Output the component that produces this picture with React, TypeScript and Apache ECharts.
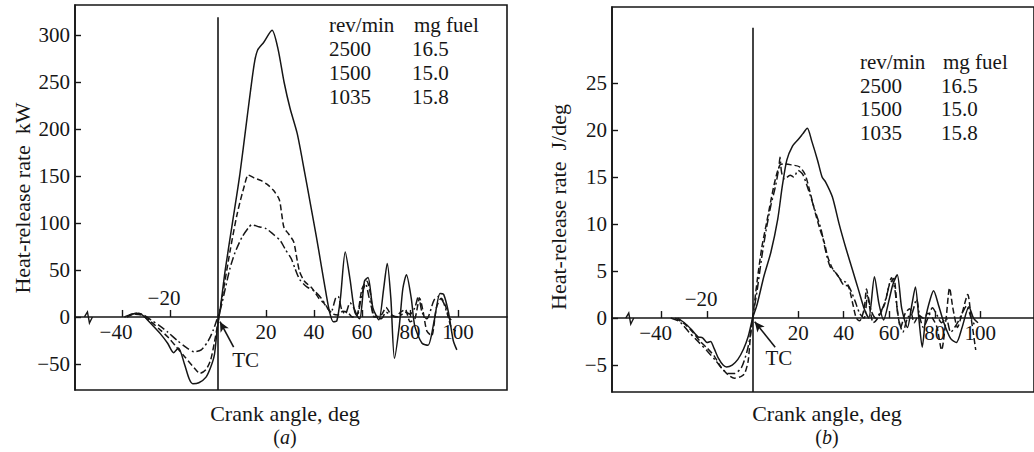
import React, { useEffect, useRef } from "react";
import * as echarts from "echarts";

// ---------- data (crank angle deg, heat-release rate) ----------
const SPEEDS = ["2500", "1500", "1035"];
const FUEL = ["16.5", "15.0", "15.8"];

const X_TICKS = [-40, -20, 20, 40, 60, 80, 100];
const X_LABELS = [-40, 20, 40, 60, 80, 100];
const X_LABEL_ABOVE = -20;
const Y_TICKS_A = [-50, 0, 50, 100, 150, 200, 250, 300];
const Y_TICKS_B = [-5, 0, 5, 10, 15, 20, 25];

// (a) kW
const A_2500 = [[-39,0],[-36,3],[-33,4],[-31,1],[-28,-7],[-24,-18],[-21,-28],[-18.5,-38],[-16.5,-33],[-14,-50],[-12,-66],[-10.5,-71],[-8,-70],[-5,-64],[-3,-53],[-1.5,-40],[-0.3,-12],[1,10],[3,50],[6,100],[9,150],[12,210],[15,268],[16.5,284],[19,292],[22.5,305],[25,285],[27.5,250],[30,222],[33,195],[36,155],[38.5,120],[41,85],[43,55],[45,25],[46.5,5],[48,-5],[49.5,-4],[51,20],[53,69],[55,40],[57,5],[59,-2],[61,38],[62.5,42],[64.5,10],[67,-3],[69,30],[70.5,57],[72,20],[73.5,-44],[75.5,-10],[77,30],[78.5,45],[80.5,20],[82,-10],[85,-28],[87.5,-30],[90,-5],[92.5,25],[94,24],[96,5],[98,-25],[99.5,-35]];
const A_1500 = [[-38,0],[-35,3],[-32,2],[-28,-5],[-24,-14],[-21,-21],[-17,-33],[-14,-42],[-10,-54],[-7.5,-60],[-5,-56],[-3,-45],[-1,-20],[0,-5],[2,25],[5,70],[8,110],[11,140],[12.6,151],[15,148],[18,145],[20.5,141],[23,135],[25.5,125],[26.5,110],[27.5,95],[29.5,88],[31.5,80],[33,60],[34,48],[36,38],[39,31],[42,20],[44,15],[46,8],[48,3],[50,2],[52,6],[54,5],[56,0],[58,2],[60,30],[62,38],[63.5,25],[65,0],[68,2],[70,10],[72,3],[74,0],[76,5],[78,8],[80,-5],[82,-2],[84,20],[85.5,5],[87,-15],[89,-20],[91,10],[93,20],[95,10],[97,-10],[99,-15]];
const A_1035 = [[-37,2],[-34,4],[-31,2],[-28,-3],[-24,-10],[-21,-16],[-17,-25],[-13,-33],[-10,-37],[-7,-35],[-4,-25],[-2,-14],[-0.5,-3],[1,8],[3,30],[5,52],[7,68],[10,85],[13,96],[14,98],[17,96],[20,94],[23,88],[26,81],[28,72],[30.5,62],[32,52],[34,40],[37,32],[40,28],[43,20],[45,12],[47,5],[49,20],[50,22],[51.5,8],[53,3],[55,15],[56.5,10],[58,2],[60,25],[61.5,35],[63,20],[65,2],[68,-2],[70,5],[72,2],[75,0],[78,5],[80,3],[82,10],[83.5,22],[85,5],[87,-2],[90,18],[92,22],[94,15],[96,0],[98,-5]];

// (b) J/deg
const B_2500 = [[-33,0],[-30,-0.5],[-27,-1.2],[-24,-2],[-22,-2.1],[-20,-2.6],[-18.5,-2.5],[-17,-3.2],[-15,-4.3],[-13,-5],[-11.5,-5.2],[-9,-5],[-6.5,-4.4],[-4,-3.3],[-2,-2],[-0.5,-0.5],[0,0],[2,1.5],[5,4.5],[8,7],[11,10.5],[13,14],[15,16.8],[17.5,18.3],[20,19],[22,19.6],[24,20.2],[26,18.8],[28.5,16.8],[30.5,15],[32,14.5],[35,12.9],[38,10],[41,7.4],[44,5],[46.5,3],[49,1],[51,0],[53.5,4.4],[55.5,1.5],[57.5,-0.2],[60,2],[61.5,3.5],[63.5,4.6],[65.5,1],[68,-1],[70,1.5],[71.5,3.3],[73,0],[74.5,-3.1],[76,0],[78,2],[79.5,2.9],[81.5,1.5],[84,-0.5],[87,-2.2],[89.5,-2.6],[92,-1],[95,1.2],[97,0],[99,-0.5]];
const B_1500 = [[-34,0],[-30,-0.6],[-26,-1.6],[-23,-2.5],[-20,-3.2],[-17,-4],[-14,-5.2],[-11,-6],[-8,-6.4],[-5,-6.2],[-3.5,-5.9],[-2,-4.6],[-1,-2],[0,0],[2,4],[4,7.5],[6,10],[8,12.5],[10,14.8],[12,16.3],[14,16.4],[17,16.3],[20.5,16.1],[23,15.3],[25,13.6],[27.5,11.2],[29.5,9.5],[31.5,8],[33,6.5],[35,5.3],[37.5,4.5],[40,3.5],[42,3.4],[44,1.5],[45.5,0],[47,-0.3],[49,1],[50,3.1],[51.5,1],[53,-0.5],[55,0],[58,1.5],[60,3.5],[62,4.2],[63.5,1],[65,-1],[67,0.5],[69,1],[71,-0.5],[73,0.3],[75,0],[77,0.5],[79,0],[81,-1],[83,-3.4],[85,0],[86.5,3.2],[88,1],[90,-1],[92,0.5],[94.5,2.5],[96,0],[98,-3.4]];
const B_1035 = [[-36,0],[-32,-0.4],[-28,-1.5],[-24,-2.5],[-20,-3.5],[-16,-4.6],[-13,-5.5],[-10.7,-5.9],[-8,-5.9],[-5,-5.3],[-3,-4],[-1.5,-2.5],[0,0],[2,3],[4,6.5],[6,9.5],[8,12],[10,14],[11.5,16],[12,17.1],[12.7,15.5],[14,14.8],[16.5,15.2],[18,15],[20,15.7],[22,15.3],[24,14],[26,12.5],[28,11],[30,9.5],[32,7.2],[34,5.5],[36.5,4.8],[39,4],[41,3.8],[43,3],[45,1.8],[47,0.5],[49,0],[50.5,2.5],[52,0.8],[54,0],[57,1],[59,2.5],[61,4.3],[62.5,3],[64,0],[66,-1.5],[68,0],[70,0.5],[72,2],[73.5,0],[75,-1],[77,0],[79,1.1],[81,0.3],[83,-0.5],[85,0],[87,-1.5],[90,-0.5],[92,0.5],[94,1.3],[96,0],[98,-1]];

// ---------- styling ----------
const INK = "#161616";
const FONT = '"Liberation Serif", "Times New Roman", serif';
const FS = 21;
const DASH_STYLES: any[] = ["solid", [6, 3], [8, 3, 2, 3]];

const fmt = (v: number) => (v < 0 ? "\u2212" + Math.abs(v) : String(v));

function App() {
  const ref = useRef<HTMLDivElement>(null);
  useEffect(() => {
    document.body.style.margin = "0";
    const chart = echarts.init(ref.current as HTMLDivElement, null, { renderer: "svg" });

    const xAxisCommon = (gi: number, min: number, max: number) => ({
      gridIndex: gi, type: "value", min, max,
      axisLine: { onZero: true, lineStyle: { color: INK, width: 1.6 } },
      axisTick: { inside: true, length: 7, customValues: X_TICKS, lineStyle: { color: INK, width: 1.4 } },
      axisLabel: { show: false },
      splitLine: { show: false },
    });
    const yAxisCommon = (gi: number, min: number, max: number, ticks: number[]) => ({
      gridIndex: gi, type: "value", min, max,
      axisLine: { show: true, onZero: false, lineStyle: { color: INK, width: 1.6 } },
      axisTick: { show: true, inside: true, length: 6, customValues: ticks, lineStyle: { color: INK, width: 1.4 } },
      axisLabel: { customValues: ticks, formatter: fmt, fontSize: FS, fontFamily: FONT, color: INK, margin: 5 },
      splitLine: { show: false },
    });

    const mkSeries = (data: number[][], i: number, gi: number, extra: any = {}) => ({
      type: "line", xAxisIndex: gi, yAxisIndex: gi, data, smooth: 0.25, showSymbol: false, symbol: "none",
      lineStyle: { color: INK, width: 1.5, type: DASH_STYLES[i] }, z: 3, ...extra,
    });

    const guides = (top: number, bottom: number, arrowFrom: number[], arrowTo: number[]) => ({
      markLine: {
        silent: true, symbol: ["none", "none"], label: { show: false }, animation: false,
        lineStyle: { color: INK, width: 1.6, type: "solid" },
        data: [
          [{ coord: [0, top] }, { coord: [0, bottom] }],
          [{ coord: arrowFrom, symbol: "none" }, { coord: arrowTo, symbol: "arrow", symbolSize: [7, 10] }],
        ],
      },
    });

    const option: any = {
      animation: false,
      backgroundColor: "#ffffff",
      grid: [
        { left: 75, top: 5, width: 432, height: 385, show: true, borderColor: INK, borderWidth: 1.6 },
        { left: 612, top: 7, width: 432, height: 385, show: true, borderColor: INK, borderWidth: 1.6 },
      ],
      xAxis: [xAxisCommon(0, -59.6, 120.4), xAxisCommon(1, -61.8, 123.6)],
      yAxis: [yAxisCommon(0, -77.7, 331.9, Y_TICKS_A), yAxisCommon(1, -7.87, 33.1, Y_TICKS_B)],
      series: [
        mkSeries(A_2500, 0, 0, guides(-77.7, 319, [6.5, -32], [0.8, -5])),
        mkSeries(A_1500, 1, 0),
        mkSeries(A_1035, 2, 0),
        mkSeries(B_2500, 0, 1, guides(-7.87, 30.9, [9.9, -3.1], [0.9, -0.4])),
        mkSeries(B_1500, 1, 1),
        mkSeries(B_1035, 2, 1),
      ],
    };
    chart.setOption(option);

    const txt = (text: string, x: number, y: number, extra: any = {}, style: any = {}) => ({
      type: "text", x, y, silent: true, z: 10, ...extra,
      style: { text, fontSize: FS, fontFamily: FONT, fill: INK, align: "left", verticalAlign: "middle", ...style },
    });

    const graphics: any[] = [];
    // legends
    const legend = (x1: number, x2: number, y0: number, dy: number) => {
      graphics.push(txt("rev/min", x1, y0));
      graphics.push(txt("mg fuel", x2 + 2, y0));
      SPEEDS.forEach((s, i) => {
        graphics.push(txt(s, x1, y0 + dy * (i + 1)));
        graphics.push(txt(FUEL[i], x2, y0 + dy * (i + 1)));
      });
    };
    legend(329, 412, 25, 24);
    legend(860, 941, 62, 23.5);

    // axis titles
    graphics.push(txt("Heat-release rate  kW", 22, 198, { rotation: Math.PI / 2 }, { align: "center", fontSize: 22 }));
    graphics.push(txt("Heat-release rate  J/deg", 558, 207, { rotation: Math.PI / 2 }, { align: "center", fontSize: 22 }));
    graphics.push(txt("Crank angle, deg", 285, 413, {}, { align: "center", fontSize: 22 }));
    graphics.push(txt("Crank angle, deg", 827, 413, {}, { align: "center", fontSize: 22 }));
    const sub = (l: string, x: number) =>
      txt("({i|" + l + "})", x, 437, {}, {
        align: "center", fontSize: 20,
        rich: { i: { fontStyle: "italic", fontSize: 20, fontFamily: FONT, fill: INK } },
      });
    graphics.push(sub("a", 285));
    graphics.push(sub("b", 827));

    // crank-angle tick labels on the zero line, TC labels, axis break marks
    [0, 1].forEach((gi) => {
      X_LABELS.forEach((v) => {
        const p = chart.convertToPixel({ gridIndex: gi } as any, [v, 0]) as number[];
        graphics.push(txt(fmt(v), p[0] + (v < 0 ? -6 : 0), p[1] + 15, {}, { align: "center" }));
      });
      const p = chart.convertToPixel({ gridIndex: gi } as any, [X_LABEL_ABOVE, 0]) as number[];
      graphics.push(txt(fmt(X_LABEL_ABOVE), p[0] - 6, p[1] - 19, {}, { align: "center" }));
      const tc = chart.convertToPixel({ gridIndex: gi } as any, gi === 0 ? [11.5, -46] : [11.5, -4.2]) as number[];
      graphics.push(txt("TC", tc[0], tc[1], {}, { align: "center" }));
      const b = chart.convertToPixel({ gridIndex: gi } as any, [-54, 0]) as number[];
      graphics.push({
        type: "polyline", silent: true,
        shape: { points: [[b[0] - 4, b[1]], [b[0] - 1, b[1] - 5], [b[0] + 1, b[1] + 6], [b[0] + 4, b[1]]] },
        style: { stroke: INK, lineWidth: 1.4, fill: "none" },
      });
    });

    chart.setOption({ graphic: graphics });
    return () => chart.dispose();
  }, []);
  return <div ref={ref} style={{ width: 1034, height: 452 }} />;
}

export default App;
